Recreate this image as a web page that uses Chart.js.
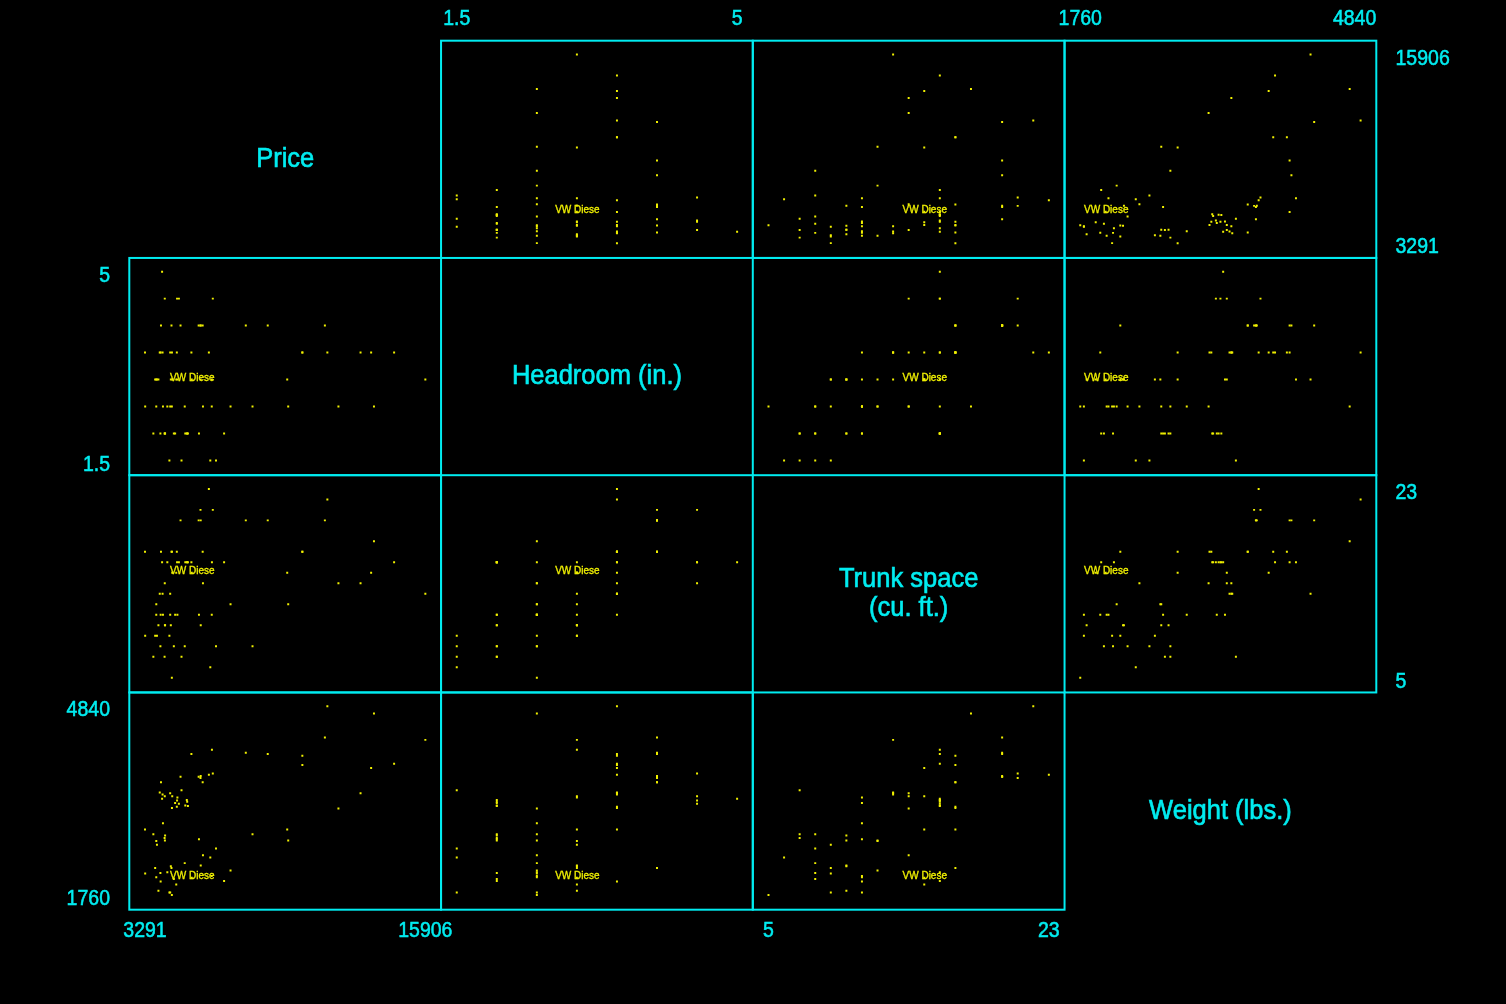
<!DOCTYPE html>
<html>
<head>
<meta charset="utf-8">
<script src="https://cdn.jsdelivr.net/npm/chart.js@4"></script>
<style>
  html, body { margin: 0; padding: 0; background: #000; }
  #wrap { position: relative; width: 1506px; height: 1004px; background: #000; overflow: hidden; }
  #wrap canvas { position: absolute; left: 0; top: 0; }
</style>
</head>
<body>
<div id="wrap"></div>
<script>
// ---- Data (1978 automobile data, 74 cars) ----
const makes = ["AMC Concord","AMC Pacer","AMC Spirit","Buick Century","Buick Electra","Buick LeSabre","Buick Opel","Buick Regal","Buick Riviera","Buick Skylark",
  "Cad. Deville","Cad. Eldorado","Cad. Seville","Chev. Chevette","Chev. Impala","Chev. Malibu","Chev. Monte Carlo","Chev. Monza","Chev. Nova","Dodge Colt",
  "Dodge Diplomat","Dodge Magnum","Dodge St. Regis","Ford Fiesta","Ford Mustang","Linc. Continental","Linc. Mark V","Linc. Versailles","Merc. Bobcat","Merc. Cougar",
  "Merc. Marquis","Merc. Monarch","Merc. XR-7","Merc. Zephyr","Olds 98","Olds Cutl Supr","Olds Cutlass","Olds Delta 88","Olds Omega","Olds Starfire",
  "Olds Toronado","Plym. Arrow","Plym. Champ","Plym. Horizon","Plym. Sapporo","Plym. Volare","Pont. Catalina","Pont. Firebird","Pont. Grand Prix","Pont. Le Mans",
  "Pont. Phoenix","Pont. Sunbird","Audi 5000","Audi Fox","BMW 320i","Datsun 200","Datsun 210","Datsun 510","Datsun 810","Fiat Strada",
  "Honda Accord","Honda Civic","Mazda GLC","Peugeot 604","Renault Le Car","Subaru","Toyota Celica","Toyota Corolla","Toyota Corona","VW Dasher",
  "VW Diesel","VW Rabbit","VW Scirocco","Volvo 260"];

const price = [4099,4749,3799,4816,7827,5788,4453,5189,10372,4082,
  11385,14500,15906,3299,5705,4504,5104,3667,3955,3984,
  4010,5886,6342,4389,4187,11497,13594,13466,3829,5379,
  6165,4516,6303,3291,8814,5172,4733,4890,4181,4195,
  10371,4647,4425,4482,6486,4060,5798,4934,5222,4723,
  4424,4172,9690,6295,9735,6229,4589,5079,8129,4296,
  5799,4499,3995,12990,3895,3798,5899,3748,5719,7140,
  5397,4697,6850,11995];

const headroom = [2.5,3.0,3.0,4.5,4.0,4.0,3.0,2.0,3.5,3.5,
  4.0,3.5,3.0,2.5,4.0,3.5,2.0,2.0,3.5,2.0,
  4.0,4.0,4.5,1.5,2.0,3.5,2.5,3.5,3.0,3.5,
  3.5,3.0,3.0,3.5,4.0,2.0,4.5,4.0,4.5,2.0,
  3.5,2.0,2.5,4.0,1.5,5.0,4.0,1.5,2.0,3.5,
  3.5,2.0,3.0,2.5,2.5,1.5,2.0,2.5,2.5,2.5,
  3.0,2.5,3.5,3.5,3.0,2.5,2.5,3.0,2.0,2.5,
  3.0,3.0,2.0,2.5];

const trunk = [11,11,12,16,20,21,10,16,17,13,
  20,16,13,9,20,17,16,7,13,8,
  17,17,21,9,10,22,18,15,9,16,
  23,15,16,17,20,16,16,20,14,10,
  17,11,11,17,8,16,20,7,16,17,
  13,7,15,11,12,6,8,8,8,16,
  10,5,11,14,10,11,14,9,11,12,
  15,15,16,14];

const weight = [2930,3350,2640,3250,4080,3670,2230,3280,3880,3400,
  4330,3900,4290,2110,3690,3180,3220,2750,3430,2120,
  3600,3600,3740,1800,2650,4840,4720,3830,2580,4060,
  3720,3370,4130,2830,4060,3310,3300,3690,3370,2730,
  4030,3260,1800,2200,2520,3330,3700,3470,3210,3200,
  3420,2690,2830,2070,2650,2370,2020,2280,2750,2130,
  2240,1760,1980,3420,1830,2050,2410,2200,2670,2160,
  2040,1930,1990,3170];

// tick labels (min and max of each variable)
const priceTicks = [3291, 15906];
const headroomTicks = [1.5, 5];
const trunkTicks = [5, 23];
const weightTicks = [1760, 4840];

// diagonal variable titles
const varTitles = [["Price"], ["Headroom (in.)"], ["Trunk space", "(cu. ft.)"], ["Weight (lbs.)"]];

// marker label
const labelledMake = "VW Diesel";
const labelledText = "VW Diese";

// ---- Layout / style ----
const W = 1506, H = 1004;
const X0 = 129.3, CW = 311.75, Y0 = 40.7, RH = 217.25;
const PADX = 15.7, PADY_TOP = 13.7, PADY_BOT = 14.7;
const CYAN = "rgb(0,236,240)";
const YELLOW = "rgb(240,240,0)";
const FONT = '"Liberation Sans", Arial, Helvetica, sans-serif';
const RIGHT_EDGE = X0 + 4 * CW;

const vars = [price, headroom, trunk, weight];
const varTicks = [priceTicks, headroomTicks, trunkTicks, weightTicks];
const labelIdx = makes.indexOf(labelledMake);

function xLimits(t) {
  const span = CW - 2 * PADX, r = t[1] - t[0];
  return { min: t[0] - PADX / span * r, max: t[1] + PADX / span * r };
}
function yLimits(t) {
  const span = RH - PADY_TOP - PADY_BOT, r = t[1] - t[0];
  return { min: t[0] - PADY_BOT / span * r, max: t[1] + PADY_TOP / span * r };
}

// text with slight vertical stretch and thin outline (to mimic the heavier source rendering)
function drawText(ctx, s, x, y, align, size, color, stroke) {
  ctx.save();
  ctx.translate(x, y);
  ctx.scale(1, 1.1);
  ctx.font = size + 'px ' + FONT;
  ctx.textAlign = align;
  ctx.textBaseline = 'alphabetic';
  ctx.fillStyle = color;
  ctx.fillText(s, 0, 0);
  if (stroke) {
    ctx.strokeStyle = color;
    ctx.lineWidth = stroke;
    ctx.strokeText(s, 0, 0);
  }
  ctx.restore();
}

const panelPlugin = {
  id: 'panel',
  afterDatasetsDraw(chart, args, o) {
    const ctx = chart.ctx, a = chart.chartArea;
    const xs = chart.scales.x, ys = chart.scales.y;
    ctx.save();
    // marker label
    if (o.showLabel) {
      const px = xs.getPixelForValue(o.xData[labelIdx]);
      const py = ys.getPixelForValue(o.yData[labelIdx]);
      drawText(ctx, labelledText, px + 0.5, py + 1.5, 'center', 10, YELLOW, 0.3);
    }
    // border (only around scatter panels)
    if (!o.title) {
      ctx.strokeStyle = CYAN;
      ctx.lineWidth = 2;
      ctx.strokeRect(a.left, a.top, a.right - a.left, a.bottom - a.top);
    }
    // diagonal title
    if (o.title) {
      const cx = (a.left + a.right) / 2, cy = (a.top + a.bottom) / 2;
      if (o.title.length === 1) {
        drawText(ctx, o.title[0], cx, cy + 17.5, 'center', 25.5, CYAN, 0.6);
      } else {
        drawText(ctx, o.title[0], cx, cy + 3.6, 'center', 25.5, CYAN, 0.6);
        drawText(ctx, o.title[1], cx, cy + 32, 'center', 25.5, CYAN, 0.6);
      }
    }
    ctx.font = '19.5px ' + FONT;
    if (o.xTicks) {
      o.xTicks.forEach(v => {
        const px = xs.getPixelForValue(v);
        const s = String(v);
        ctx.font = '19.5px ' + FONT;
        const w = ctx.measureText(s).width;
        let x = px - w / 2;
        if (x + w > RIGHT_EDGE) x = RIGHT_EDGE - w;
        const y = o.xPos === 'top' ? a.top - 15.5 : a.bottom + 27.3;
        drawText(ctx, s, x, y, 'left', 19.5, CYAN, 0.5);
      });
    }
    if (o.yTicks) {
      o.yTicks.forEach(v => {
        const py = ys.getPixelForValue(v);
        const s = String(v);
        if (o.yPos === 'left') {
          drawText(ctx, s, a.left - 19.3, py + 10.2, 'right', 19.5, CYAN, 0.5);
        } else {
          drawText(ctx, s, a.right + 19.2, py + 10.2, 'left', 19.5, CYAN, 0.5);
        }
      });
    }
    ctx.restore();
  }
};

const wrap = document.getElementById('wrap');
for (let r = 0; r < 4; r++) {
  for (let c = 0; c < 4; c++) {
    const cv = document.createElement('canvas');
    cv.width = W; cv.height = H;
    cv.style.width = W + 'px'; cv.style.height = H + 'px';
    wrap.appendChild(cv);
    const left = X0 + c * CW, top = Y0 + r * RH;
    const right = left + CW, bottom = top + RH;
    const xl = xLimits(varTicks[c]), yl = yLimits(varTicks[r]);
    const diag = r === c;
    const xData = vars[c], yData = vars[r];
    const pts = diag ? [] : xData.map((v, i) => ({ x: v, y: yData[i] }));
    const opts = {
      title: diag ? varTitles[r] : null,
      showLabel: !diag,
      xData, yData,
      xTicks: null, xPos: null, yTicks: null, yPos: null
    };
    if (r === 0 && (c === 1 || c === 3)) { opts.xTicks = varTicks[c]; opts.xPos = 'top'; }
    if (r === 3 && (c === 0 || c === 2)) { opts.xTicks = varTicks[c]; opts.xPos = 'bottom'; }
    if (c === 0 && (r === 1 || r === 3)) { opts.yTicks = varTicks[r]; opts.yPos = 'left'; }
    if (c === 3 && (r === 0 || r === 2)) { opts.yTicks = varTicks[r]; opts.yPos = 'right'; }

    new Chart(cv, {
      type: 'scatter',
      data: {
        datasets: [{
          data: pts,
          pointStyle: 'rect',
          pointRadius: 1.4,
          pointBorderWidth: 0,
          pointBackgroundColor: YELLOW,
          pointBorderColor: YELLOW
        }]
      },
      options: {
        responsive: false,
        animation: false,
        events: [],
        layout: { padding: { left: left, top: top, right: W - right, bottom: H - bottom } },
        scales: {
          x: { type: 'linear', display: false, min: xl.min, max: xl.max, bounds: 'data', grace: 0 },
          y: { type: 'linear', display: false, min: yl.min, max: yl.max, bounds: 'data', grace: 0 }
        },
        plugins: {
          legend: { display: false },
          tooltip: { enabled: false },
          panel: opts
        }
      },
      plugins: [panelPlugin]
    });
  }
}
</script>
</body>
</html>
